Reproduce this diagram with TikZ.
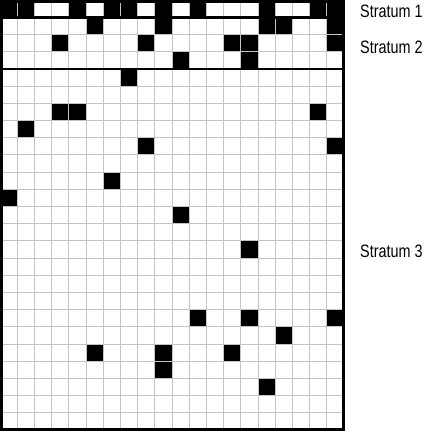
\documentclass[tikz,border=0pt]{standalone}
\usepackage{fontspec}
\setmainfont{Liberation Sans}
\definecolor{gridgray}{HTML}{C4C4C4}
\tikzset{
  gridline/.style={draw=gridgray, line width=1pt},
  thickline/.style={draw=black, line width=2.6pt},
  blackcell/.style={fill=black},
  label/.style={anchor=base west, inner sep=0pt, font=\fontsize{18}{20}\selectfont}
}
\newcommand{\cs}{17.2}
\begin{document}
\begin{tikzpicture}[x=1pt,y=1pt]
  \useasboundingbox (0,0) rectangle (431,-431);
  \fill[white] (0,0) rectangle (431,-431);
  % gray grid
  \foreach \i in {1,...,19} {
    \draw[gridline] (\i*\cs,0) -- (\i*\cs,-430);
  }
  \foreach \j in {1,...,24} {
    \draw[gridline] (0,-\j*\cs) -- (344,-\j*\cs);
  }
  % black cells (row/col list)
  \foreach \r/\c in {0/0,0/1,0/4,0/6,0/7,0/9,0/11,0/15,0/18,0/19,
                     1/5,1/9,1/15,1/16,1/19,
                     2/3,2/8,2/13,2/14,2/19,
                     3/10,3/14,
                     4/7,
                     6/3,6/4,6/18,
                     7/1,
                     8/8,8/19,
                     10/6,
                     11/0,
                     12/10,
                     14/14,
                     18/11,18/14,18/19,
                     19/16,
                     20/5,20/9,20/13,
                     21/9,
                     22/15} {
    \fill[blackcell] (\c*\cs+0.5,-\r*\cs-0.5) rectangle (\c*\cs+\cs-0.5,-\r*\cs-\cs+0.5);
  }
  % thick lines
  \draw[thickline] (1.3,-1.3) rectangle (343.2,-429.7);
  \draw[thickline] (0,-\cs) -- (344,-\cs);
  \draw[thickline] (0,-4*\cs) -- (344,-4*\cs);
  % labels
  \node[label] (s1) at (360,-17) {\scalebox{0.8}[1]{Stratum 1}};
  \node[label] (s2) at (360,-53) {\scalebox{0.8}[1]{Stratum 2}};
  \node[label] (s3) at (360,-257) {\scalebox{0.8}[1]{Stratum 3}};
\end{tikzpicture}
\end{document}
